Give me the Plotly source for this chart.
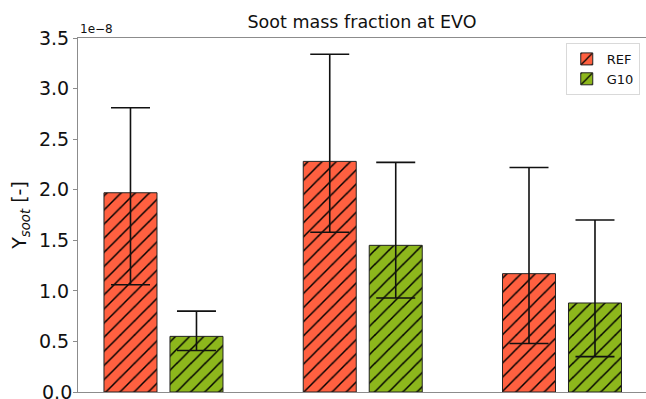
import plotly.graph_objects as go

# Data (values in units of 1e-8)
groups = [0, 1, 2]
ref_vals = [1.97, 2.28, 1.17]
ref_err_plus = [0.84, 1.06, 1.05]
ref_err_minus = [0.91, 0.70, 0.69]
g10_vals = [0.55, 1.45, 0.88]
g10_err_plus = [0.25, 0.82, 0.82]
g10_err_minus = [0.14, 0.52, 0.53]
series_names = ["REF", "G10"]
yticks = [0.0, 0.5, 1.0, 1.5, 2.0, 2.5, 3.0, 3.5]

ref_color = "#FF6040"
g10_color = "#8DB71C"
bar_w = 0.266
half_off = 0.1656

fig = go.Figure()
for name, vals, ep, em, col, off in [
    (series_names[0], ref_vals, ref_err_plus, ref_err_minus, ref_color, -half_off),
    (series_names[1], g10_vals, g10_err_plus, g10_err_minus, g10_color, half_off),
]:
    fig.add_trace(go.Bar(
        x=groups, y=vals, name=name,
        width=bar_w, offset=off - bar_w / 2,
        marker=dict(color=col, line=dict(color="#222222", width=1),
                    pattern=dict(shape="/", fgcolor="#000000", bgcolor=col, fgopacity=1,
                                 size=10, solidity=0.15, fillmode="overlay")),
        error_y=dict(type="data", symmetric=False, array=ep, arrayminus=em,
                     color="#111111", thickness=1.6, width=19.5),
    ))

fig.update_layout(
    width=646, height=399,
    margin=dict(l=78, r=0, t=38, b=7),
    plot_bgcolor="white", paper_bgcolor="white",
    barmode="overlay",
    font=dict(family="DejaVu Sans", color="#111111"),
    title=dict(text="Soot mass fraction at EVO", x=0.5, xref="paper", xanchor="center",
               y=1 - 22 / 399, yref="container", yanchor="middle",
               font=dict(size=17.5, family="DejaVu Sans", color="#111111")),
    showlegend=True,
    legend=dict(x=0.989, y=0.986, xanchor="right", yanchor="top",
                bgcolor="white", bordercolor="#d9d9d9", borderwidth=1,
                font=dict(size=13, family="DejaVu Sans"),
                tracegroupgap=2),
)
fig.update_xaxes(range=[-0.429, 2.4216], showticklabels=False, ticks="",
                 showgrid=False, zeroline=False, showline=True, mirror=True,
                 linecolor="#8c8c8c", linewidth=1.2)
fig.update_yaxes(range=[0, 3.5], tickvals=yticks, tickformat=".1f",
                 ticks="outside", ticklen=4, tickcolor="#8c8c8c", tickwidth=1,
                 showgrid=False, zeroline=False, showline=True, mirror=False,
                 linecolor="#8c8c8c", linewidth=1.2,
                 tickfont=dict(size=19, family="DejaVu Sans", color="#111111"),
                 title=dict(text="Y<sub><i>soot</i></sub> [-]", standoff=7,
                            font=dict(size=19, family="DejaVu Sans", color="#111111")))
# offset label of the y axis
fig.add_annotation(text="1e\u22128", xref="paper", yref="paper", x=0, y=1,
                   xanchor="left", yanchor="bottom", showarrow=False,
                   font=dict(size=12, family="DejaVu Sans", color="#111111"))
# bottom tick label (partly cut off by the figure edge, as in the reference)
fig.add_annotation(text="%.1f" % yticks[0], xref="paper", yref="y", x=0, y=yticks[0],
                   xanchor="right", yanchor="middle", showarrow=False, xshift=-4,
                   font=dict(size=19, family="DejaVu Sans", color="#111111"))

fig.write_html("out.html")
